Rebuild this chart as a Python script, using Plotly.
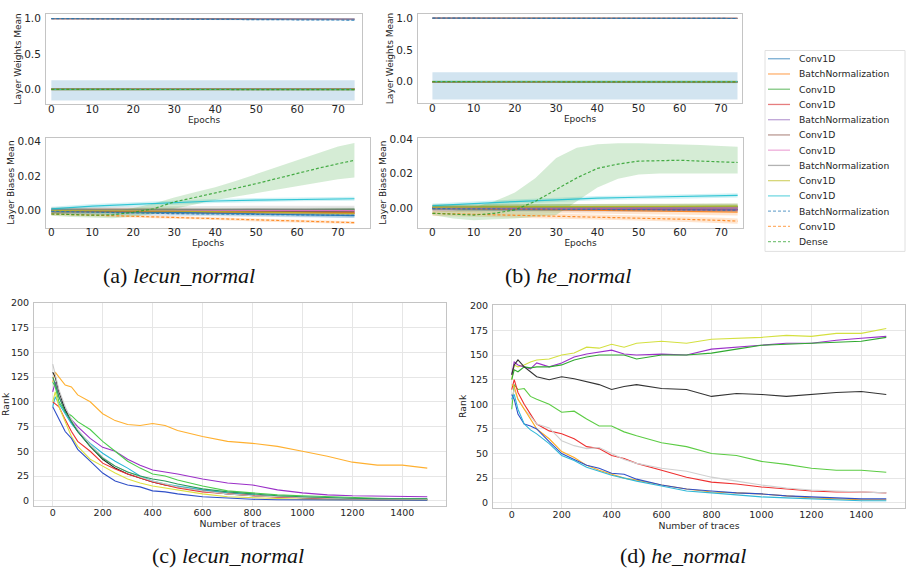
import plotly.graph_objects as go

W, H = 907, 573

# ---------------- layer statistics (top panels) ----------------
EPOCHS = [0, 10, 20, 30, 40, 50, 60, 70, 74]
EPOCHS_FINE = [0, 5, 10, 15, 20, 25, 30, 35, 40, 45, 50, 55, 60, 65, 70, 74]

LAYER_NAMES = ["Conv1D", "BatchNormalization", "Conv1D", "Conv1D", "BatchNormalization",
               "Conv1D", "Conv1D", "BatchNormalization", "Conv1D", "Conv1D",
               "BatchNormalization", "Conv1D", "Dense"]
LAYER_COLORS = ["#1f77b4", "#ff7f0e", "#2ca02c", "#d62728", "#9467bd", "#8c564b", "#e377c2",
                "#7f7f7f", "#bcbd22", "#17becf", "#1f77b4", "#ff7f0e", "#2ca02c"]
LAYER_DASHED = [False, False, False, False, False, False, False, False, False, False, True, True, True]

# weights mean, lecun_normal (a)
W_MEAN_A = [
    [0.0, 0.0, 0.0, 0.0, 0.0, 0.0, 0.0, 0.0, 0.0],
    [1.0, 1.0, 0.999, 0.998, 0.998, 0.997, 0.996, 0.995, 0.995],
    [0.0, 0.0, 0.0, 0.0, 0.0, 0.0, 0.0, 0.0, 0.0],
    [0.0, 0.0, 0.0, 0.0, 0.0, 0.0, 0.0, 0.0, 0.0],
    [1.0, 0.999, 0.998, 0.997, 0.996, 0.995, 0.994, 0.993, 0.993],
    [0.0, 0.0, 0.0, 0.0, 0.0, 0.0, 0.0, 0.0, 0.0],
    [0.0, 0.0, 0.0, 0.0, 0.0, 0.0, 0.0, 0.0, 0.0],
    [1.0, 1.0, 0.999, 0.998, 0.997, 0.996, 0.995, 0.994, 0.994],
    [0.0, 0.0, 0.0, 0.0, 0.0, 0.0, 0.0, 0.0, 0.0],
    [0.0, 0.0, 0.0, 0.0, 0.0, 0.0, 0.0, 0.0, 0.0],
    [1.0, 0.998, 0.995, 0.992, 0.989, 0.986, 0.983, 0.980, 0.979],
    [0.0, 0.0, 0.0, 0.0, 0.0, 0.0, 0.0, 0.0, 0.0],
    [0.0, -0.001, -0.001, -0.001, -0.002, -0.002, -0.002, -0.002, -0.002],
]
W_SPREAD_A = [0.0, 0.004, 0.012, 0.01, 0.004, 0.01, 0.01, 0.004, 0.01, 0.01, 0.008, 0.01, 0.015]
W0_LOW_A = [-0.155, -0.155, -0.155, -0.155, -0.155, -0.155, -0.155, -0.155, -0.155]
W0_HIGH_A = [0.13, 0.13, 0.13, 0.13, 0.13, 0.13, 0.13, 0.13, 0.13]

# weights mean, he_normal (b)
W_MEAN_B = [
    [0.0, 0.0, 0.0, 0.0, 0.0, 0.0, 0.0, 0.0, 0.0],
    [1.0, 1.0, 1.0, 0.999, 0.999, 0.998, 0.998, 0.997, 0.997],
    [0.0, 0.0, 0.0, 0.0, 0.0, 0.0, 0.0, 0.0, 0.0],
    [0.0, 0.0, 0.0, 0.0, 0.0, 0.0, 0.0, 0.0, 0.0],
    [1.0, 1.0, 0.999, 0.998, 0.998, 0.997, 0.996, 0.996, 0.996],
    [0.0, 0.0, 0.0, 0.0, 0.0, 0.0, 0.0, 0.0, 0.0],
    [0.0, 0.0, 0.0, 0.0, 0.0, 0.0, 0.0, 0.0, 0.0],
    [1.0, 1.0, 0.999, 0.999, 0.998, 0.998, 0.997, 0.997, 0.997],
    [0.0, 0.0, 0.0, 0.0, 0.0, 0.0, 0.0, 0.0, 0.0],
    [0.0, 0.0, 0.0, 0.0, 0.0, 0.0, 0.0, 0.0, 0.0],
    [1.0, 1.0, 0.999, 0.998, 0.997, 0.996, 0.995, 0.995, 0.995],
    [0.0, 0.0, 0.0, 0.0, 0.0, 0.0, 0.0, 0.0, 0.0],
    [0.0, -0.002, -0.003, -0.003, -0.003, -0.003, -0.003, -0.003, -0.003],
]
W_SPREAD_B = [0.0, 0.003, 0.015, 0.012, 0.003, 0.012, 0.012, 0.003, 0.012, 0.012, 0.004, 0.012, 0.02]
W0_LOW_B = [-0.28, -0.28, -0.28, -0.28, -0.28, -0.28, -0.28, -0.28, -0.28]
W0_HIGH_B = [0.15, 0.15, 0.15, 0.15, 0.15, 0.15, 0.15, 0.15, 0.15]

# biases mean, lecun_normal (a); the Dense layer is listed separately
B_MEAN_A = [
    [0.0, -0.0003, -0.0006, -0.001, -0.0015, -0.002, -0.0025, -0.003, -0.003],
    [0.0, 0.0, -0.0002, -0.0004, -0.0006, -0.0008, -0.001, -0.0012, -0.0013],
    [0.0, 0.0001, 0.0002, 0.0003, 0.0004, 0.0005, 0.0006, 0.0006, 0.0006],
    [0.0, -0.0001, -0.0002, -0.0004, -0.0006, -0.0008, -0.001, -0.0013, -0.0015],
    [0.0, 0.0, 0.0, 0.0, 0.0, -0.0001, -0.0001, -0.0002, -0.0002],
    [0.0, 0.0, -0.0001, -0.0002, -0.0003, -0.0004, -0.0005, -0.0006, -0.0007],
    [0.0, 0.0001, 0.0002, 0.0002, 0.0002, 0.0001, 0.0001, 0.0, 0.0],
    [0.0, 0.0002, 0.0004, 0.0005, 0.0006, 0.0007, 0.0007, 0.0008, 0.0008],
    [0.0, 0.0, -0.0002, -0.0004, -0.0006, -0.0008, -0.001, -0.0014, -0.0016],
    [0.001, 0.0025, 0.0035, 0.0045, 0.0055, 0.006, 0.0065, 0.0068, 0.0068],
    [-0.0005, -0.001, -0.0014, -0.0018, -0.002, -0.0022, -0.0025, -0.0027, -0.0028],
    [-0.002, -0.0028, -0.0033, -0.004, -0.0047, -0.0055, -0.0062, -0.0068, -0.007],
]
B_SPREAD_A = [0.001, 0.0015, 0.001, 0.001, 0.001, 0.0015, 0.001, 0.002, 0.001, 0.0012, 0.0015, 0.0008]
DENSE_MEAN_A = [-0.002, -0.0024, -0.0027, -0.0025, -0.001, 0.001, 0.005, 0.0075, 0.010, 0.0128,
                0.0155, 0.0185, 0.0215, 0.0243, 0.027, 0.029]
DENSE_HIGH_A = [-0.001, -0.001, -0.0012, -0.0005, 0.0015, 0.004, 0.0075, 0.0105, 0.0135, 0.017,
                0.021, 0.025, 0.029, 0.033, 0.037, 0.039]
DENSE_LOW_A = [-0.003, -0.0038, -0.0042, -0.0045, -0.0035, -0.002, 0.001, 0.0035, 0.006, 0.008,
               0.010, 0.012, 0.014, 0.016, 0.018, 0.019]

# biases mean, he_normal (b)
B_MEAN_B = [
    [0.0, -0.0002, -0.0003, -0.0004, -0.0005, -0.0006, -0.0007, -0.0008, -0.0008],
    [0.0, -0.0003, -0.0006, -0.001, -0.0013, -0.0016, -0.0019, -0.0022, -0.0023],
    [0.0005, 0.0006, 0.0007, 0.0008, 0.0009, 0.001, 0.001, 0.0011, 0.0011],
    [0.0, -0.0001, -0.0002, -0.0003, -0.0004, -0.0005, -0.0007, -0.0009, -0.001],
    [-0.0002, -0.0003, -0.0003, -0.0004, -0.0004, -0.0005, -0.0005, -0.0006, -0.0006],
    [0.0, 0.0, 0.0001, 0.0001, 0.0002, 0.0002, 0.0003, 0.0003, 0.0003],
    [0.0, 0.0001, 0.0001, 0.0002, 0.0002, 0.0002, 0.0002, 0.0003, 0.0003],
    [0.0, 0.0002, 0.0003, 0.0004, 0.0005, 0.0006, 0.0006, 0.0007, 0.0007],
    [0.0005, 0.0006, 0.0007, 0.0008, 0.0009, 0.001, 0.0011, 0.0012, 0.0012],
    [0.0015, 0.0028, 0.0038, 0.0048, 0.0058, 0.0063, 0.0066, 0.0071, 0.0074],
    [-0.0003, -0.0005, -0.0006, -0.0007, -0.0008, -0.0009, -0.001, -0.0011, -0.0012],
    [-0.003, -0.0035, -0.004, -0.0045, -0.005, -0.0057, -0.0064, -0.0071, -0.0075],
]
B_SPREAD_B = [0.001, 0.002, 0.0015, 0.001, 0.0015, 0.001, 0.001, 0.002, 0.0015, 0.0012, 0.001, 0.0015]
DENSE_MEAN_B = [-0.003, -0.0035, -0.004, -0.003, -0.001, 0.004, 0.011, 0.0175, 0.023, 0.0255,
                0.0272, 0.0276, 0.0277, 0.0272, 0.0268, 0.0264]
DENSE_HIGH_B = [-0.002, -0.0015, 0.0005, 0.004, 0.009, 0.0175, 0.029, 0.035, 0.037, 0.0375,
                0.0375, 0.0373, 0.037, 0.0365, 0.036, 0.0355]
DENSE_LOW_B = [-0.004, -0.006, -0.007, -0.0065, -0.006, -0.005, -0.004, 0.004, 0.012, 0.017,
               0.0195, 0.020, 0.0202, 0.020, 0.020, 0.020]

# ---------------- key rank (bottom panels) ----------------
TRACES = [0, 10, 25, 50, 75, 100, 150, 200, 250, 300, 350, 400, 450, 500,
          600, 700, 800, 900, 1000, 1100, 1200, 1300, 1400, 1500]

RANK_COLORS_C = ["#ffb030", "#9b30c8", "#4ccc4c", "#2ab8d8", "#222222", "#ee3030",
                 "#dde040", "#3050c8", "#c8c8c8", "#2a9a5a"]
RANK_C = [
    [120, 130, 125, 117, 115, 107, 100, 88, 81, 77, 76, 78, 76, 71, 65, 60, 58, 55, 50, 45, 39, 36, 36, 33],
    [110, 120, 105, 92, 82, 75, 63, 54, 50, 42, 36, 31, 29, 27, 22, 18, 16, 11, 8, 6, 5, 4.5, 4, 4],
    [120, 115, 100, 90, 86, 80, 72, 60, 50, 40, 33, 27, 25, 21, 15, 10, 8, 6, 5, 4, 3, 2.5, 2, 2],
    [95, 105, 98, 88, 78, 70, 58, 48, 40, 33, 25, 20, 17, 15, 11, 8, 6, 4, 3, 2.5, 2, 1.5, 1.5, 1],
    [130, 125, 110, 92, 80, 70, 55, 42, 33, 27, 23, 19, 16, 14, 10, 7, 5, 4, 3, 2, 2, 1.5, 1, 1],
    [100, 98, 95, 82, 70, 60, 50, 38, 32, 27, 23, 19, 16, 13, 9, 7, 5, 3.5, 3, 2, 1.5, 1, 1, 1],
    [100, 110, 95, 80, 65, 55, 42, 35, 28, 22, 18, 15, 13, 11, 7, 4, 3, 2, 1.5, 1, 1, 0.5, 0.5, 0.5],
    [95, 90, 82, 70, 63, 52, 40, 28, 20, 16, 14, 10, 9, 7, 4, 2.5, 1.5, 1, 1, 0.5, 0.5, 0.5, 0.5, 0.5],
    [138, 128, 112, 95, 82, 72, 57, 44, 35, 29, 24, 20, 17, 14, 10, 7, 5, 4, 3, 2.5, 2, 2, 1.5, 1.5],
    [125, 118, 105, 90, 80, 70, 55, 43, 35, 29, 25, 22, 20, 17, 12, 9, 7, 5, 4, 3, 2.5, 2, 2, 2],
]

RANK_COLORS_D = ["#d4e040", "#9b30c8", "#30aa30", "#333333", "#5ccc44", "#ee3030",
                 "#d0d0d0", "#ffaa22", "#3050c8", "#30b8d8"]
RANK_D = [
    [125, 140, 138, 140, 143, 145, 146, 150, 152, 158, 157, 161, 158, 162, 164, 162, 166, 167, 168, 170, 169, 172, 172, 177],
    [130, 143, 140, 138, 136, 142, 138, 142, 148, 151, 153, 155, 151, 150, 151, 150, 156, 158, 160, 162, 162, 165, 167, 169],
    [125, 135, 133, 138, 137, 138, 138, 140, 145, 148, 150, 150, 150, 146, 150, 150, 152, 156, 160, 161, 162, 163, 164, 168],
    [130, 140, 145, 138, 133, 128, 125, 128, 126, 123, 120, 115, 118, 120, 116, 115, 108, 111, 110, 108, 110, 112, 113, 110],
    [95, 120, 115, 116, 108, 105, 100, 92, 93, 85, 78, 78, 72, 68, 61, 57, 50, 48, 42, 39, 35, 33, 33, 31],
    [115, 125, 112, 100, 90, 80, 73, 70, 65, 57, 55, 48, 45, 40, 33, 26, 21, 19, 16, 14, 12, 11, 11, 10],
    [105, 115, 105, 95, 88, 80, 76, 63, 58, 55, 56, 50, 44, 40, 35, 32, 26, 22, 18, 15, 13, 12, 11, 10],
    [120, 118, 105, 95, 85, 75, 65, 52, 46, 38, 33, 29, 25, 23, 18, 14, 11, 10, 9, 7, 5, 4, 3, 3],
    [110, 105, 90, 80, 78, 75, 62, 50, 44, 38, 35, 30, 29, 24, 18, 14, 12, 10, 9, 7, 6, 5, 4, 4],
    [105, 110, 95, 80, 74, 70, 60, 48, 43, 36, 32, 28, 25, 22, 17, 12, 10, 8, 6, 5, 4, 3, 2, 2],
]

CAPTIONS = ["(a) <i>lecun_normal</i>", "(b) <i>he_normal</i>",
            "(c) <i>lecun_normal</i>", "(d) <i>he_normal</i>"]

FONT = "DejaVu Sans"
TXT = "#262626"


def rgba(hex_color, a):
    h = hex_color.lstrip("#")
    return "rgba(%d,%d,%d,%.2f)" % (int(h[0:2], 16), int(h[2:4], 16), int(h[4:6], 16), a)


def band(fig, x, lo, hi, color, xa, ya):
    fig.add_trace(go.Scatter(x=list(x) + list(x)[::-1], y=list(hi) + list(lo)[::-1],
                             fill="toself", fillcolor=rgba(color, 0.2), line=dict(width=0),
                             mode="lines", hoverinfo="skip", showlegend=False,
                             xaxis=xa, yaxis=ya))


def line(fig, x, y, color, dashed, xa, ya, width=1.2):
    fig.add_trace(go.Scatter(x=x, y=y, mode="lines", showlegend=False,
                             line=dict(color=rgba(color, 0.85), width=width,
                                       dash="3px,2px" if dashed else "solid"),
                             xaxis=xa, yaxis=ya))


def weights_panel(fig, means, spreads, lo0, hi0, xa, ya):
    for i, m in enumerate(means):
        if i == 0:
            band(fig, EPOCHS, lo0, hi0, LAYER_COLORS[i], xa, ya)
        else:
            band(fig, EPOCHS, [v - spreads[i] for v in m], [v + spreads[i] for v in m],
                 LAYER_COLORS[i], xa, ya)
    for i, m in enumerate(means):
        line(fig, EPOCHS, m, LAYER_COLORS[i], LAYER_DASHED[i], xa, ya)


def biases_panel(fig, means, spreads, d_mean, d_lo, d_hi, xa, ya):
    for i, m in enumerate(means):
        band(fig, EPOCHS, [v - spreads[i] for v in m], [v + spreads[i] for v in m],
             LAYER_COLORS[i], xa, ya)
    band(fig, EPOCHS_FINE, d_lo, d_hi, LAYER_COLORS[12], xa, ya)
    for i, m in enumerate(means):
        line(fig, EPOCHS, m, LAYER_COLORS[i], LAYER_DASHED[i], xa, ya)
    line(fig, EPOCHS_FINE, d_mean, LAYER_COLORS[12], True, xa, ya)


fig = go.Figure()

weights_panel(fig, W_MEAN_A, W_SPREAD_A, W0_LOW_A, W0_HIGH_A, "x", "y")
biases_panel(fig, B_MEAN_A, B_SPREAD_A, DENSE_MEAN_A, DENSE_LOW_A, DENSE_HIGH_A, "x2", "y2")
weights_panel(fig, W_MEAN_B, W_SPREAD_B, W0_LOW_B, W0_HIGH_B, "x3", "y3")
biases_panel(fig, B_MEAN_B, B_SPREAD_B, DENSE_MEAN_B, DENSE_LOW_B, DENSE_HIGH_B, "x4", "y4")

for ranks, cols, xa, ya in [(RANK_C, RANK_COLORS_C, "x5", "y5"), (RANK_D, RANK_COLORS_D, "x6", "y6")]:
    for r, c in zip(ranks, cols):
        fig.add_trace(go.Scatter(x=TRACES, y=r, mode="lines", showlegend=False,
                                 line=dict(color=c, width=1.1), xaxis=xa, yaxis=ya))


def dx(a, b):
    return [a / W, b / W]


def dy(top, bottom):
    return [1 - bottom / H, 1 - top / H]


def axis(domain, rng, anchor, title, tickvals, fmt=None, grid=False, fsize=10.5, tsize=9, off=2):
    d = dict(domain=domain, range=rng, anchor=anchor, showline=True, mirror=True,
             linecolor="#c4c4c4", linewidth=1, ticks="", showgrid=grid,
             gridcolor="#e6e6e6", gridwidth=1, zeroline=False, tickvals=tickvals,
             tickfont=dict(family=FONT, size=fsize, color=TXT),
             title=dict(text=title, font=dict(family=FONT, size=tsize, color=TXT), standoff=1),
             ticklabelstandoff=off)
    if fmt:
        d["tickformat"] = fmt
    return d


EP_TICKS = [0, 10, 20, 30, 40, 50, 60, 70]
TR_TICKS = [0, 200, 400, 600, 800, 1000, 1200, 1400]
RK_TICKS = [0, 25, 50, 75, 100, 125, 150, 175, 200]

layout = dict(
    width=W, height=H, margin=dict(l=0, r=0, t=0, b=0),
    paper_bgcolor="white", plot_bgcolor="white", showlegend=False,
    xaxis=axis(dx(46, 362), [-1.3, 75.8], "y", "Epochs", EP_TICKS, off=-5),
    yaxis=axis(dy(8, 99), [-0.205, 1.066], "x", "Layer Weights Mean", [0, 0.5, 1.0], ".1f"),
    xaxis2=axis(dx(46, 370), [-1.3, 77.8], "y2", "Epochs", EP_TICKS, off=-5),
    yaxis2=axis(dy(133, 224), [-0.0099, 0.0421], "x2", "Layer Biases Mean", [0, 0.02, 0.04], ".2f"),
    xaxis3=axis(dx(418, 742), [-3.5, 75.1], "y3", "Epochs", EP_TICKS, off=-5),
    yaxis3=axis(dy(8, 98), [-0.335, 1.067], "x3", "Layer Weights Mean", [0, 0.5, 1.0], ".1f"),
    xaxis4=axis(dx(418, 743), [-3.5, 75.3], "y4", "Epochs", EP_TICKS, off=-5),
    yaxis4=axis(dy(133, 224), [-0.0113, 0.0408], "x4", "Layer Biases Mean", [0, 0.02, 0.04], ".2f"),
    xaxis5=axis(dx(34, 446), [-75, 1575], "y5", "Number of traces", TR_TICKS, grid=True,
                fsize=9.5, tsize=9.3, off=-2),
    yaxis5=axis(dy(300, 505), [-5, 200], "x5", "Rank", RK_TICKS, grid=True, fsize=9.5, tsize=9.3),
    xaxis6=axis(dx(493, 905), [-75, 1575], "y6", "Number of traces", TR_TICKS, grid=True,
                fsize=9.5, tsize=9.3, off=-2),
    yaxis6=axis(dy(302, 507), [-5, 201], "x6", "Rank", RK_TICKS, grid=True, fsize=9.5, tsize=9.3),
)
fig.update_layout(**layout)

# legend box drawn at the figure's right edge
shapes = [dict(type="rect", xref="paper", yref="paper", x0=765 / W, x1=905 / W,
               y0=1 - 248 / H, y1=1 - 45 / H, line=dict(color="#e0e0e0", width=1),
               fillcolor="white", layer="above")]
annotations = []
for i, name in enumerate(LAYER_NAMES):
    yc = 53.3 + 15.4 * i
    shapes.append(dict(type="line", xref="paper", yref="paper", x0=768 / W, x1=790 / W,
                       y0=1 - yc / H, y1=1 - yc / H, layer="above",
                       line=dict(color=rgba(LAYER_COLORS[i], 0.6), width=1.3,
                                 dash="3px,2px" if LAYER_DASHED[i] else "solid")))
    annotations.append(dict(x=797 / W, y=1 - yc / H, xref="paper", yref="paper", text=name,
                            showarrow=False, xanchor="left", yanchor="middle",
                            font=dict(family=FONT, size=9.2, color=TXT)))

for text, (cx, cy) in zip(CAPTIONS, [(179, 272), (568, 272), (228, 555), (683, 555)]):
    annotations.append(dict(x=cx / W, y=1 - cy / H, xref="paper", yref="paper", text=text,
                            showarrow=False, xanchor="center", yanchor="middle",
                            font=dict(family="Liberation Serif", size=22, color="#111111")))

fig.update_layout(shapes=shapes, annotations=annotations)

fig.write_html("out.html", config={"displayModeBar": False},
               post_script="document.body.style.margin='0';")
